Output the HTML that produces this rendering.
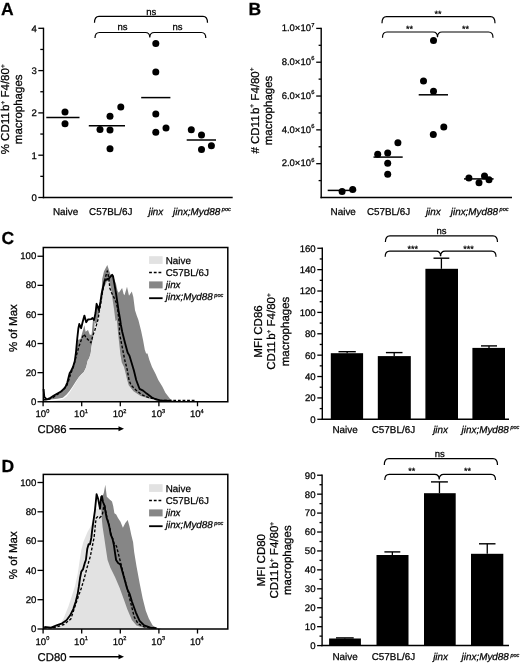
<!DOCTYPE html>
<html><head><meta charset="utf-8"><style>
html,body{margin:0;padding:0;background:#fff;}
svg{display:block;filter:blur(0.35px);}
text{font-family:"Liberation Sans", sans-serif;fill:#000;stroke:#000;stroke-width:0.25px;}
</style></head><body>
<svg text-rendering="geometricPrecision" width="520" height="665" viewBox="0 0 520 665">
<rect width="520" height="665" fill="#fff"/>
<text x="1.00" y="14.80" font-size="17.5" text-anchor="start" font-weight="bold" font-style="normal" >A</text>
<line x1="43.50" y1="27.70" x2="43.50" y2="198.20" stroke="#000" stroke-width="1.4" />
<line x1="42.80" y1="197.50" x2="232.70" y2="197.50" stroke="#000" stroke-width="1.5" />
<line x1="38.30" y1="197.50" x2="43.50" y2="197.50" stroke="#000" stroke-width="1.3" />
<text x="36.90" y="200.90" font-size="9.6" text-anchor="end" font-weight="normal" font-style="normal" >0</text>
<line x1="38.30" y1="155.20" x2="43.50" y2="155.20" stroke="#000" stroke-width="1.3" />
<text x="36.90" y="158.60" font-size="9.6" text-anchor="end" font-weight="normal" font-style="normal" >1</text>
<line x1="38.30" y1="112.90" x2="43.50" y2="112.90" stroke="#000" stroke-width="1.3" />
<text x="36.90" y="116.30" font-size="9.6" text-anchor="end" font-weight="normal" font-style="normal" >2</text>
<line x1="38.30" y1="70.60" x2="43.50" y2="70.60" stroke="#000" stroke-width="1.3" />
<text x="36.90" y="74.00" font-size="9.6" text-anchor="end" font-weight="normal" font-style="normal" >3</text>
<line x1="38.30" y1="28.30" x2="43.50" y2="28.30" stroke="#000" stroke-width="1.3" />
<text x="36.90" y="31.70" font-size="9.6" text-anchor="end" font-weight="normal" font-style="normal" >4</text>
<line x1="40.30" y1="176.35" x2="43.50" y2="176.35" stroke="#000" stroke-width="1.3" />
<line x1="40.30" y1="134.05" x2="43.50" y2="134.05" stroke="#000" stroke-width="1.3" />
<line x1="40.30" y1="91.75" x2="43.50" y2="91.75" stroke="#000" stroke-width="1.3" />
<line x1="40.30" y1="49.45" x2="43.50" y2="49.45" stroke="#000" stroke-width="1.3" />
<text transform="translate(6.20,109.30) rotate(-90)" x="0" y="0" font-size="11.5" text-anchor="middle" dominant-baseline="central">% CD11<tspan dx="1.4">b</tspan><tspan font-size="6.5" dy="-3.3">+</tspan><tspan font-size="0.1" dy="3.3">.</tspan> F4/80<tspan font-size="6.5" dy="-3.3">+</tspan><tspan font-size="0.1" dy="3.3">.</tspan></text>
<text transform="translate(19.40,109.30) rotate(-90)" x="0" y="0" font-size="11.5" text-anchor="middle" dominant-baseline="central">macrophages</text>
<text x="65.50" y="214.80" font-size="9.9" text-anchor="middle" font-weight="normal" font-style="normal" >Naive</text>
<text x="110.80" y="214.80" font-size="9.9" text-anchor="middle" font-weight="normal" font-style="normal" >C57BL/6J</text>
<text x="155.90" y="214.80" font-size="9.9" text-anchor="middle" font-weight="normal" font-style="italic" >jinx</text>
<text x="173.00" y="214.80" font-size="9.9" text-anchor="start" font-weight="normal" font-style="italic" >jinx;Myd88<tspan font-size="5.6" dx="1.6" dy="-3.8">poc</tspan></text>
<line x1="46.30" y1="117.50" x2="79.50" y2="117.50" stroke="#000" stroke-width="1.5" />
<line x1="88.80" y1="125.80" x2="125.00" y2="125.80" stroke="#000" stroke-width="1.5" />
<line x1="141.20" y1="97.60" x2="170.40" y2="97.60" stroke="#000" stroke-width="1.5" />
<line x1="186.70" y1="140.00" x2="216.00" y2="140.00" stroke="#000" stroke-width="1.5" />
<circle cx="65.00" cy="112.00" r="3.5" fill="#000"/>
<circle cx="65.00" cy="123.80" r="3.5" fill="#000"/>
<circle cx="100.00" cy="129.50" r="3.5" fill="#000"/>
<circle cx="110.00" cy="116.30" r="3.5" fill="#000"/>
<circle cx="110.00" cy="130.00" r="3.5" fill="#000"/>
<circle cx="110.00" cy="148.80" r="3.5" fill="#000"/>
<circle cx="120.80" cy="107.00" r="3.5" fill="#000"/>
<circle cx="155.80" cy="43.50" r="3.5" fill="#000"/>
<circle cx="155.80" cy="72.00" r="3.5" fill="#000"/>
<circle cx="155.80" cy="114.00" r="3.5" fill="#000"/>
<circle cx="155.80" cy="132.30" r="3.5" fill="#000"/>
<circle cx="166.00" cy="128.10" r="3.5" fill="#000"/>
<circle cx="191.30" cy="129.80" r="3.5" fill="#000"/>
<circle cx="201.50" cy="135.10" r="3.5" fill="#000"/>
<circle cx="201.50" cy="149.50" r="3.5" fill="#000"/>
<circle cx="211.40" cy="145.70" r="3.5" fill="#000"/>
<path d="M94.5,22.8 Q94.5,16.3 99.0,16.3 L203.0,16.3 Q207.5,16.3 207.5,22.8" fill="none" stroke="#000" stroke-width="1.2"/>
<path d="M95,38.0 Q95,32.5 99.5,32.5 L145.3,32.5 Q149.8,32.5 149.8,37.5 Q149.8,32.5 154.3,32.5 L201.3,32.5 Q205.8,32.5 205.8,38.0" fill="none" stroke="#000" stroke-width="1.2"/>
<text x="151.30" y="15.00" font-size="9.5" text-anchor="middle" font-weight="normal" font-style="normal" >ns</text>
<text x="122.50" y="29.80" font-size="9.5" text-anchor="middle" font-weight="normal" font-style="normal" >ns</text>
<text x="177.50" y="29.80" font-size="9.5" text-anchor="middle" font-weight="normal" font-style="normal" >ns</text>
<text x="248.40" y="15.00" font-size="17.5" text-anchor="start" font-weight="bold" font-style="normal" >B</text>
<line x1="321.20" y1="27.80" x2="321.20" y2="198.20" stroke="#000" stroke-width="1.4" />
<line x1="320.50" y1="197.50" x2="512.00" y2="197.50" stroke="#000" stroke-width="1.5" />
<line x1="316.20" y1="163.68" x2="321.20" y2="163.68" stroke="#000" stroke-width="1.3" />
<text x="314.40" y="166.38" font-size="9.5" text-anchor="end" font-weight="normal" font-style="normal" >2.0×10<tspan font-size="5.8" dx="0.2" dy="-4.6">6</tspan></text>
<line x1="316.20" y1="129.86" x2="321.20" y2="129.86" stroke="#000" stroke-width="1.3" />
<text x="314.40" y="132.56" font-size="9.5" text-anchor="end" font-weight="normal" font-style="normal" >4.0×10<tspan font-size="5.8" dx="0.2" dy="-4.6">6</tspan></text>
<line x1="316.20" y1="96.04" x2="321.20" y2="96.04" stroke="#000" stroke-width="1.3" />
<text x="314.40" y="98.74" font-size="9.5" text-anchor="end" font-weight="normal" font-style="normal" >6.0×10<tspan font-size="5.8" dx="0.2" dy="-4.6">6</tspan></text>
<line x1="316.20" y1="62.22" x2="321.20" y2="62.22" stroke="#000" stroke-width="1.3" />
<text x="314.40" y="64.92" font-size="9.5" text-anchor="end" font-weight="normal" font-style="normal" >8.0×10<tspan font-size="5.8" dx="0.2" dy="-4.6">6</tspan></text>
<line x1="316.20" y1="28.40" x2="321.20" y2="28.40" stroke="#000" stroke-width="1.3" />
<text x="314.40" y="31.10" font-size="9.5" text-anchor="end" font-weight="normal" font-style="normal" >1.0×10<tspan font-size="5.8" dx="0.2" dy="-4.6">7</tspan></text>
<line x1="318.60" y1="180.59" x2="321.20" y2="180.59" stroke="#000" stroke-width="1.3" />
<line x1="318.60" y1="146.77" x2="321.20" y2="146.77" stroke="#000" stroke-width="1.3" />
<line x1="318.60" y1="112.95" x2="321.20" y2="112.95" stroke="#000" stroke-width="1.3" />
<line x1="318.60" y1="79.13" x2="321.20" y2="79.13" stroke="#000" stroke-width="1.3" />
<line x1="318.60" y1="45.31" x2="321.20" y2="45.31" stroke="#000" stroke-width="1.3" />
<text transform="translate(255.70,110.50) rotate(-90)" x="0" y="0" font-size="11.5" text-anchor="middle" dominant-baseline="central"># CD11<tspan dx="1.4">b</tspan><tspan font-size="6.5" dy="-3.3">+</tspan><tspan font-size="0.1" dy="3.3">.</tspan> F4/80<tspan font-size="6.5" dy="-3.3">+</tspan><tspan font-size="0.1" dy="3.3">.</tspan></text>
<text transform="translate(268.90,110.50) rotate(-90)" x="0" y="0" font-size="11.5" text-anchor="middle" dominant-baseline="central">macrophages</text>
<text x="343.20" y="215.00" font-size="9.9" text-anchor="middle" font-weight="normal" font-style="normal" >Naive</text>
<text x="388.60" y="215.00" font-size="9.9" text-anchor="middle" font-weight="normal" font-style="normal" >C57BL/6J</text>
<text x="433.30" y="215.00" font-size="9.9" text-anchor="middle" font-weight="normal" font-style="italic" >jinx</text>
<text x="450.80" y="215.00" font-size="9.9" text-anchor="start" font-weight="normal" font-style="italic" >jinx;Myd88<tspan font-size="5.6" dx="1.6" dy="-3.8">poc</tspan></text>
<line x1="327.70" y1="190.40" x2="356.20" y2="190.40" stroke="#000" stroke-width="1.5" />
<line x1="373.50" y1="157.10" x2="402.70" y2="157.10" stroke="#000" stroke-width="1.5" />
<line x1="418.70" y1="94.80" x2="448.00" y2="94.80" stroke="#000" stroke-width="1.5" />
<line x1="464.00" y1="178.90" x2="493.60" y2="178.90" stroke="#000" stroke-width="1.5" />
<circle cx="342.10" cy="191.50" r="3.5" fill="#000"/>
<circle cx="352.70" cy="189.60" r="3.5" fill="#000"/>
<circle cx="377.70" cy="154.20" r="3.5" fill="#000"/>
<circle cx="387.70" cy="153.10" r="3.5" fill="#000"/>
<circle cx="387.70" cy="163.30" r="3.5" fill="#000"/>
<circle cx="387.70" cy="174.20" r="3.5" fill="#000"/>
<circle cx="397.90" cy="142.70" r="3.5" fill="#000"/>
<circle cx="433.50" cy="40.60" r="3.5" fill="#000"/>
<circle cx="423.50" cy="81.00" r="3.5" fill="#000"/>
<circle cx="433.50" cy="91.20" r="3.5" fill="#000"/>
<circle cx="433.30" cy="134.50" r="3.5" fill="#000"/>
<circle cx="443.80" cy="127.00" r="3.5" fill="#000"/>
<circle cx="468.90" cy="178.00" r="3.5" fill="#000"/>
<circle cx="479.00" cy="182.70" r="3.5" fill="#000"/>
<circle cx="484.50" cy="176.00" r="3.5" fill="#000"/>
<circle cx="489.00" cy="179.70" r="3.5" fill="#000"/>
<path d="M382,23.2 Q382,16.7 386.5,16.7 L490.5,16.7 Q495,16.7 495,23.2" fill="none" stroke="#000" stroke-width="1.2"/>
<path d="M382.5,37.7 Q382.5,32 387.0,32 L433.0,32 Q437.5,32 437.5,37.2 Q437.5,32 442.0,32 L488.5,32 Q493,32 493,37.7" fill="none" stroke="#000" stroke-width="1.2"/>
<text x="438.00" y="16.60" font-size="9" text-anchor="middle" font-weight="normal" font-style="normal" >**</text>
<text x="409.60" y="31.80" font-size="9" text-anchor="middle" font-weight="normal" font-style="normal" >**</text>
<text x="465.60" y="31.80" font-size="9" text-anchor="middle" font-weight="normal" font-style="normal" >**</text>
<text x="1.50" y="244.30" font-size="17.5" text-anchor="start" font-weight="bold" font-style="normal" >C</text>
<polygon points="43.5,401.3 47.0,400.5 50.5,399.6 57.4,398.8 62.8,397.7 66.6,394.6 69.7,390.8 72.8,386.2 75.8,381.5 78.9,376.9 81.4,374.3 83.8,371.9 86.2,367.0 87.7,360.4 89.2,358.0 90.7,353.2 91.6,346.0 92.8,340.0 93.8,334.8 94.7,322.2 94.0,320.1 92.9,321.0 91.6,334.8 89.8,334.8 88.0,330.0 85.6,331.8 84.4,325.2 80.5,339.0 77.6,340.0 76.0,352.0 74.8,361.0 73.0,367.0 70.6,371.9 69.7,373.1 68.5,377.7 67.4,382.3 65.8,386.2 63.5,389.2 60.5,391.9 57.4,393.5 53.5,395.8 50.5,397.7 47.8,399.1 46.2,399.5 43.5,400.5" fill="#868686" stroke="none" stroke-width="1" />
<polygon points="94.0,320.1 95.5,313.0 96.6,303.8 98.9,310.0 100.5,301.5 101.6,293.8 102.2,279.0 104.0,271.2 107.3,264.9 109.1,270.6 110.6,274.8 113.0,275.9 116.0,283.7 117.6,291.0 118.8,292.8 122.1,288.0 123.6,294.0 124.5,295.2 127.0,286.8 129.0,295.8 131.8,291.6 133.3,297.0 135.0,310.3 136.8,315.7 138.4,320.0 141.1,330.8 143.0,339.8 144.8,349.8 146.1,353.4 147.5,353.4 149.3,359.7 152.0,366.9 155.6,374.1 158.3,380.0 162.3,386.5 165.4,392.7 170.0,398.8 173.0,400.7 180.0,401.3 110.0,401.3 100.0,330.0 94.7,322.2" fill="#868686" stroke="none" stroke-width="1" />
<polygon points="50.0,401.3 57.4,400.2 62.8,399.2 66.6,396.5 69.7,392.5 72.8,387.5 75.8,382.5 78.9,377.5 81.4,374.8 83.8,372.4 86.2,367.5 87.7,361.0 89.2,358.5 90.7,353.5 91.6,346.5 92.8,340.5 93.8,335.5 95.1,330.0 97.4,320.0 99.7,310.0 101.2,301.5 102.8,293.8 104.0,287.5 107.0,280.9 109.4,282.0 111.0,288.0 112.2,297.0 114.0,309.0 115.5,321.0 116.8,320.0 118.6,338.0 120.4,354.3 121.8,362.4 124.0,366.9 125.8,374.1 127.2,380.0 128.7,385.2 133.5,391.2 140.7,396.0 149.2,398.4 155.0,399.6 165.0,400.8 175.0,401.3" fill="#e2e2e2" stroke="none" stroke-width="1" />
<polyline points="44.0,399.5 47.5,399.6 52.0,398.2 57.8,394.2 63.5,389.8 66.5,386.5 68.5,381.0 70.5,374.5 74.0,365.0 76.5,355.0 79.0,346.3 82.0,337.9 84.1,334.2 86.2,337.9 88.6,340.3 91.0,342.7 92.9,335.4 94.7,330.6 97.1,322.8 98.3,318.6 98.9,313.0 100.5,305.4 101.6,297.7 102.8,290.0 105.2,278.0 107.3,271.0 108.8,277.7 109.8,288.0 111.6,292.8 114.0,297.6 116.4,303.0 117.6,309.0 118.5,316.3 119.4,325.0 119.5,333.5 121.3,342.5 123.1,351.6 124.9,360.6 127.2,369.6 129.0,380.0 131.1,385.2 135.9,390.0 141.9,394.8 149.2,397.8 155.0,399.0 160.0,400.4 196.0,400.4" fill="none" stroke="#000" stroke-width="1.35" stroke-linejoin="round" stroke-dasharray="2.8,1.8"/>
<polyline points="43.6,389.0 44.3,396.9 46.2,398.8 47.8,399.1 50.5,397.7 53.5,395.8 57.4,393.5 60.5,391.9 63.5,389.2 65.8,386.2 67.4,382.3 68.5,377.7 69.7,373.1 70.6,371.9 73.0,367.0 74.8,361.0 76.0,352.0 77.2,339.0 78.4,328.2 79.3,324.0 81.1,328.2 82.6,322.2 84.4,315.6 86.2,322.2 88.0,319.5 91.0,319.2 92.5,318.0 94.0,320.1 95.5,313.0 96.6,303.8 98.9,310.0 100.5,301.5 101.6,293.8 102.4,290.0 104.5,281.0 106.5,279.5 108.0,279.0 109.4,277.9 112.1,274.8 113.0,276.0 114.6,285.0 116.1,294.0 117.3,301.8 118.5,310.3 120.0,318.7 120.9,325.0 122.2,331.7 124.9,342.5 127.6,352.5 129.4,355.6 131.2,361.5 133.9,370.5 136.2,380.0 139.5,388.8 143.1,390.6 146.7,393.6 151.6,397.2 155.0,399.0 160.0,400.4 170.0,401.0" fill="none" stroke="#000" stroke-width="1.85" stroke-linejoin="round" />
<rect x="43.3" y="247.5" width="184.5" height="154.25" fill="none" stroke="#000" stroke-width="1.5"/>
<line x1="37.50" y1="401.75" x2="43.30" y2="401.75" stroke="#000" stroke-width="1.3" />
<text x="36.30" y="404.85" font-size="9.6" text-anchor="end" font-weight="normal" font-style="normal" >0</text>
<line x1="37.50" y1="372.65" x2="43.30" y2="372.65" stroke="#000" stroke-width="1.3" />
<text x="36.30" y="375.75" font-size="9.6" text-anchor="end" font-weight="normal" font-style="normal" >20</text>
<line x1="37.50" y1="343.55" x2="43.30" y2="343.55" stroke="#000" stroke-width="1.3" />
<text x="36.30" y="346.65" font-size="9.6" text-anchor="end" font-weight="normal" font-style="normal" >40</text>
<line x1="37.50" y1="314.45" x2="43.30" y2="314.45" stroke="#000" stroke-width="1.3" />
<text x="36.30" y="317.55" font-size="9.6" text-anchor="end" font-weight="normal" font-style="normal" >60</text>
<line x1="37.50" y1="285.35" x2="43.30" y2="285.35" stroke="#000" stroke-width="1.3" />
<text x="36.30" y="288.45" font-size="9.6" text-anchor="end" font-weight="normal" font-style="normal" >80</text>
<line x1="37.50" y1="256.25" x2="43.30" y2="256.25" stroke="#000" stroke-width="1.3" />
<text x="36.30" y="259.35" font-size="9.6" text-anchor="end" font-weight="normal" font-style="normal" >100</text>
<line x1="43.10" y1="401.75" x2="43.10" y2="406.25" stroke="#000" stroke-width="1.3" />
<text x="35.50" y="417.10" font-size="9.6" text-anchor="start" font-weight="normal" font-style="normal" >10<tspan font-size="5.6" dy="-4.4">0</tspan><tspan font-size="0.1" dy="4.4">.</tspan></text>
<line x1="81.70" y1="401.75" x2="81.70" y2="406.25" stroke="#000" stroke-width="1.3" />
<text x="74.10" y="417.10" font-size="9.6" text-anchor="start" font-weight="normal" font-style="normal" >10<tspan font-size="5.6" dy="-4.4">1</tspan><tspan font-size="0.1" dy="4.4">.</tspan></text>
<line x1="120.30" y1="401.75" x2="120.30" y2="406.25" stroke="#000" stroke-width="1.3" />
<text x="112.70" y="417.10" font-size="9.6" text-anchor="start" font-weight="normal" font-style="normal" >10<tspan font-size="5.6" dy="-4.4">2</tspan><tspan font-size="0.1" dy="4.4">.</tspan></text>
<line x1="158.90" y1="401.75" x2="158.90" y2="406.25" stroke="#000" stroke-width="1.3" />
<text x="151.30" y="417.10" font-size="9.6" text-anchor="start" font-weight="normal" font-style="normal" >10<tspan font-size="5.6" dy="-4.4">3</tspan><tspan font-size="0.1" dy="4.4">.</tspan></text>
<line x1="197.50" y1="401.75" x2="197.50" y2="406.25" stroke="#000" stroke-width="1.3" />
<text x="189.90" y="417.10" font-size="9.6" text-anchor="start" font-weight="normal" font-style="normal" >10<tspan font-size="5.6" dy="-4.4">4</tspan><tspan font-size="0.1" dy="4.4">.</tspan></text>
<text x="37.60" y="432.50" font-size="11.3" text-anchor="start" font-weight="normal" font-style="normal" >CD86</text>
<line x1="69.40" y1="428.70" x2="120.00" y2="428.70" stroke="#000" stroke-width="1.5" />
<polygon points="124,428.7 118.5,426.2 118.5,431.2" fill="#000"/>
<text transform="translate(14.00,328.12) rotate(-90)" x="0" y="0" font-size="11.5" text-anchor="middle" dominant-baseline="central">% of Max</text>
<rect x="149.1" y="256.2" width="13.5" height="7.7" fill="#e2e2e2"/>
<line x1="149.10" y1="272.50" x2="162.60" y2="272.50" stroke="#000" stroke-width="1.45" stroke-dasharray="2.8,1.9"/>
<rect x="149.1" y="281.4" width="13.5" height="7" fill="#868686"/>
<line x1="149.10" y1="298.20" x2="162.60" y2="298.20" stroke="#000" stroke-width="1.85" />
<text x="165.80" y="264.20" font-size="9.8" text-anchor="start" font-weight="normal" font-style="normal" >Naive</text>
<text x="165.80" y="276.10" font-size="9.8" text-anchor="start" font-weight="normal" font-style="normal" >C57BL/6J</text>
<text x="165.80" y="287.80" font-size="9.8" text-anchor="start" font-weight="normal" font-style="italic" >jinx</text>
<text x="165.80" y="300.10" font-size="9.8" text-anchor="start" font-weight="normal" font-style="italic" >jinx;Myd88<tspan font-size="5.6" dx="1.7" dy="-3.0">poc</tspan></text>
<text x="1.50" y="472.20" font-size="17.5" text-anchor="start" font-weight="bold" font-style="normal" >D</text>
<polygon points="60.0,628.7 90.0,628.7 101.5,540.0 101.0,504.0 102.7,496.0 103.8,493.0 105.3,484.8 106.8,496.8 109.7,499.5 112.0,501.5 113.2,506.1 114.4,513.3 116.2,514.5 118.0,518.1 120.5,521.7 122.9,527.8 125.3,523.0 127.7,519.9 129.5,526.6 131.3,535.0 133.1,542.2 134.2,552.3 136.5,566.2 139.6,583.1 142.7,598.5 145.8,610.8 148.8,618.5 152.7,625.4 156.5,627.7 162.0,628.7" fill="#868686" stroke="none" stroke-width="1" />
<polygon points="48.0,628.7 53.0,628.0 57.0,626.5 60.5,623.5 63.4,619.0 68.3,606.7 72.0,595.6 75.1,585.7 77.6,574.6 79.4,562.3 81.3,550.0 83.2,542.6 85.0,537.9 87.5,532.0 90.4,527.0 92.5,521.0 94.0,514.0 96.0,509.0 99.3,508.0 101.2,510.0 101.7,518.0 102.6,527.1 104.0,536.1 105.3,545.1 106.7,554.2 107.6,560.0 110.4,567.7 115.0,576.9 119.6,587.7 123.5,598.5 127.3,609.2 131.9,620.0 136.5,625.4 141.2,626.9 150.0,628.7" fill="#e2e2e2" stroke="none" stroke-width="1" />
<polyline points="43.8,628.0 55.0,627.5 64.0,624.5 70.8,619.0 74.5,607.9 78.2,596.8 81.3,588.2 84.3,578.3 86.8,568.5 89.3,559.9 90.4,556.0 92.2,546.9 94.0,537.9 94.9,529.8 95.4,523.5 96.3,518.0 97.6,516.7 99.4,518.0 101.2,516.2 102.6,513.5 103.6,507.0 104.8,505.8 105.7,511.0 107.1,518.2 108.9,523.7 109.8,527.3 111.1,534.5 112.9,539.0 114.3,544.0 116.5,546.2 118.8,555.4 121.9,567.7 125.8,583.1 130.4,601.5 134.2,616.9 138.1,623.8 144.2,626.9 152.0,628.3" fill="none" stroke="#000" stroke-width="1.35" stroke-linejoin="round" stroke-dasharray="2.8,1.8"/>
<polyline points="44.3,627.0 51.1,627.6 57.2,625.1 62.2,623.3 66.5,620.2 70.2,615.3 73.3,609.1 75.7,601.7 77.6,594.3 78.8,586.9 80.0,578.3 81.3,571.6 83.1,569.1 85.0,562.3 85.9,560.0 87.3,548.7 88.6,544.2 90.0,544.2 91.3,537.9 92.2,529.8 93.6,519.9 94.9,510.8 96.6,494.2 98.2,499.0 100.0,508.8 101.2,496.8 101.9,496.0 103.0,502.0 104.4,505.4 105.3,510.8 106.7,518.0 108.5,523.5 109.4,527.1 110.7,534.3 112.5,538.8 113.9,545.1 115.2,554.2 116.1,560.0 118.1,563.1 120.4,564.6 123.5,575.4 127.3,589.2 129.6,593.8 131.9,601.5 135.8,612.3 139.6,620.8 144.2,625.4 150.4,627.7 156.5,628.2" fill="none" stroke="#000" stroke-width="1.85" stroke-linejoin="round" />
<rect x="43.3" y="474.4" width="184.5" height="154.60000000000002" fill="none" stroke="#000" stroke-width="1.5"/>
<line x1="37.50" y1="629.00" x2="43.30" y2="629.00" stroke="#000" stroke-width="1.3" />
<text x="36.30" y="632.10" font-size="9.6" text-anchor="end" font-weight="normal" font-style="normal" >0</text>
<line x1="37.50" y1="599.70" x2="43.30" y2="599.70" stroke="#000" stroke-width="1.3" />
<text x="36.30" y="602.80" font-size="9.6" text-anchor="end" font-weight="normal" font-style="normal" >20</text>
<line x1="37.50" y1="570.40" x2="43.30" y2="570.40" stroke="#000" stroke-width="1.3" />
<text x="36.30" y="573.50" font-size="9.6" text-anchor="end" font-weight="normal" font-style="normal" >40</text>
<line x1="37.50" y1="541.10" x2="43.30" y2="541.10" stroke="#000" stroke-width="1.3" />
<text x="36.30" y="544.20" font-size="9.6" text-anchor="end" font-weight="normal" font-style="normal" >60</text>
<line x1="37.50" y1="511.80" x2="43.30" y2="511.80" stroke="#000" stroke-width="1.3" />
<text x="36.30" y="514.90" font-size="9.6" text-anchor="end" font-weight="normal" font-style="normal" >80</text>
<line x1="37.50" y1="482.50" x2="43.30" y2="482.50" stroke="#000" stroke-width="1.3" />
<text x="36.30" y="485.60" font-size="9.6" text-anchor="end" font-weight="normal" font-style="normal" >100</text>
<line x1="43.10" y1="629.00" x2="43.10" y2="633.50" stroke="#000" stroke-width="1.3" />
<text x="35.50" y="644.60" font-size="9.6" text-anchor="start" font-weight="normal" font-style="normal" >10<tspan font-size="5.6" dy="-4.4">0</tspan><tspan font-size="0.1" dy="4.4">.</tspan></text>
<line x1="81.70" y1="629.00" x2="81.70" y2="633.50" stroke="#000" stroke-width="1.3" />
<text x="74.10" y="644.60" font-size="9.6" text-anchor="start" font-weight="normal" font-style="normal" >10<tspan font-size="5.6" dy="-4.4">1</tspan><tspan font-size="0.1" dy="4.4">.</tspan></text>
<line x1="120.30" y1="629.00" x2="120.30" y2="633.50" stroke="#000" stroke-width="1.3" />
<text x="112.70" y="644.60" font-size="9.6" text-anchor="start" font-weight="normal" font-style="normal" >10<tspan font-size="5.6" dy="-4.4">2</tspan><tspan font-size="0.1" dy="4.4">.</tspan></text>
<line x1="158.90" y1="629.00" x2="158.90" y2="633.50" stroke="#000" stroke-width="1.3" />
<text x="151.30" y="644.60" font-size="9.6" text-anchor="start" font-weight="normal" font-style="normal" >10<tspan font-size="5.6" dy="-4.4">3</tspan><tspan font-size="0.1" dy="4.4">.</tspan></text>
<line x1="197.50" y1="629.00" x2="197.50" y2="633.50" stroke="#000" stroke-width="1.3" />
<text x="189.90" y="644.60" font-size="9.6" text-anchor="start" font-weight="normal" font-style="normal" >10<tspan font-size="5.6" dy="-4.4">4</tspan><tspan font-size="0.1" dy="4.4">.</tspan></text>
<text x="37.60" y="660.50" font-size="11.3" text-anchor="start" font-weight="normal" font-style="normal" >CD80</text>
<line x1="69.40" y1="656.70" x2="120.00" y2="656.70" stroke="#000" stroke-width="1.5" />
<polygon points="124,656.7 118.5,654.2 118.5,659.2" fill="#000"/>
<text transform="translate(14.00,555.20) rotate(-90)" x="0" y="0" font-size="11.5" text-anchor="middle" dominant-baseline="central">% of Max</text>
<rect x="149.1" y="484.2" width="13.5" height="7.7" fill="#e2e2e2"/>
<line x1="149.10" y1="500.50" x2="162.60" y2="500.50" stroke="#000" stroke-width="1.45" stroke-dasharray="2.8,1.9"/>
<rect x="149.1" y="509.4" width="13.5" height="7" fill="#868686"/>
<line x1="149.10" y1="526.20" x2="162.60" y2="526.20" stroke="#000" stroke-width="1.85" />
<text x="165.80" y="492.20" font-size="9.8" text-anchor="start" font-weight="normal" font-style="normal" >Naive</text>
<text x="165.80" y="504.10" font-size="9.8" text-anchor="start" font-weight="normal" font-style="normal" >C57BL/6J</text>
<text x="165.80" y="515.80" font-size="9.8" text-anchor="start" font-weight="normal" font-style="italic" >jinx</text>
<text x="165.80" y="528.10" font-size="9.8" text-anchor="start" font-weight="normal" font-style="italic" >jinx;Myd88<tspan font-size="5.6" dx="1.7" dy="-3.0">poc</tspan></text>
<line x1="322.30" y1="247.56" x2="322.30" y2="420.00" stroke="#000" stroke-width="1.4" />
<line x1="321.60" y1="419.30" x2="509.00" y2="419.30" stroke="#000" stroke-width="1.5" />
<line x1="317.30" y1="419.30" x2="322.30" y2="419.30" stroke="#000" stroke-width="1.3" />
<text x="315.70" y="422.70" font-size="9.6" text-anchor="end" font-weight="normal" font-style="normal" >0</text>
<line x1="317.30" y1="397.92" x2="322.30" y2="397.92" stroke="#000" stroke-width="1.3" />
<text x="315.70" y="401.32" font-size="9.6" text-anchor="end" font-weight="normal" font-style="normal" >20</text>
<line x1="317.30" y1="376.54" x2="322.30" y2="376.54" stroke="#000" stroke-width="1.3" />
<text x="315.70" y="379.94" font-size="9.6" text-anchor="end" font-weight="normal" font-style="normal" >40</text>
<line x1="317.30" y1="355.16" x2="322.30" y2="355.16" stroke="#000" stroke-width="1.3" />
<text x="315.70" y="358.56" font-size="9.6" text-anchor="end" font-weight="normal" font-style="normal" >60</text>
<line x1="317.30" y1="333.78" x2="322.30" y2="333.78" stroke="#000" stroke-width="1.3" />
<text x="315.70" y="337.18" font-size="9.6" text-anchor="end" font-weight="normal" font-style="normal" >80</text>
<line x1="317.30" y1="312.40" x2="322.30" y2="312.40" stroke="#000" stroke-width="1.3" />
<text x="315.70" y="315.80" font-size="9.6" text-anchor="end" font-weight="normal" font-style="normal" >100</text>
<line x1="317.30" y1="291.02" x2="322.30" y2="291.02" stroke="#000" stroke-width="1.3" />
<text x="315.70" y="294.42" font-size="9.6" text-anchor="end" font-weight="normal" font-style="normal" >120</text>
<line x1="317.30" y1="269.64" x2="322.30" y2="269.64" stroke="#000" stroke-width="1.3" />
<text x="315.70" y="273.04" font-size="9.6" text-anchor="end" font-weight="normal" font-style="normal" >140</text>
<line x1="317.30" y1="248.26" x2="322.30" y2="248.26" stroke="#000" stroke-width="1.3" />
<text x="315.70" y="251.66" font-size="9.6" text-anchor="end" font-weight="normal" font-style="normal" >160</text>
<line x1="319.70" y1="408.61" x2="322.30" y2="408.61" stroke="#000" stroke-width="1.3" />
<line x1="319.70" y1="387.23" x2="322.30" y2="387.23" stroke="#000" stroke-width="1.3" />
<line x1="319.70" y1="365.85" x2="322.30" y2="365.85" stroke="#000" stroke-width="1.3" />
<line x1="319.70" y1="344.47" x2="322.30" y2="344.47" stroke="#000" stroke-width="1.3" />
<line x1="319.70" y1="323.09" x2="322.30" y2="323.09" stroke="#000" stroke-width="1.3" />
<line x1="319.70" y1="301.71" x2="322.30" y2="301.71" stroke="#000" stroke-width="1.3" />
<line x1="319.70" y1="280.33" x2="322.30" y2="280.33" stroke="#000" stroke-width="1.3" />
<line x1="319.70" y1="258.95" x2="322.30" y2="258.95" stroke="#000" stroke-width="1.3" />
<rect x="330.8" y="353.2" width="32.30000000000001" height="66.10000000000002" fill="#000"/>
<line x1="347.15" y1="353.20" x2="347.15" y2="351.70" stroke="#000" stroke-width="1.3" />
<line x1="338.50" y1="351.70" x2="355.80" y2="351.70" stroke="#000" stroke-width="1.4" />
<rect x="377.8" y="356.1" width="33.0" height="63.19999999999999" fill="#000"/>
<line x1="394.20" y1="356.10" x2="394.20" y2="352.60" stroke="#000" stroke-width="1.3" />
<line x1="385.90" y1="352.60" x2="402.50" y2="352.60" stroke="#000" stroke-width="1.4" />
<rect x="425.4" y="268.8" width="32.60000000000002" height="150.5" fill="#000"/>
<line x1="441.40" y1="268.80" x2="441.40" y2="258.20" stroke="#000" stroke-width="1.3" />
<line x1="433.50" y1="258.20" x2="449.30" y2="258.20" stroke="#000" stroke-width="1.4" />
<rect x="472.4" y="347.9" width="32.60000000000002" height="71.40000000000003" fill="#000"/>
<line x1="489.00" y1="347.90" x2="489.00" y2="345.90" stroke="#000" stroke-width="1.3" />
<line x1="481.00" y1="345.90" x2="497.00" y2="345.90" stroke="#000" stroke-width="1.4" />
<path d="M385.4,242.10000000000002 Q385.4,235.8 389.9,235.8 L493.0,235.8 Q497.5,235.8 497.5,242.10000000000002" fill="none" stroke="#000" stroke-width="1.2"/>
<path d="M385.2,256.7 Q385.2,251.1 389.7,251.1 L436.1,251.1 Q440.6,251.1 440.6,256.2 Q440.6,251.1 445.1,251.1 L491.5,251.1 Q496,251.1 496,256.7" fill="none" stroke="#000" stroke-width="1.2"/>
<text x="441.50" y="234.30" font-size="9.5" text-anchor="middle" font-weight="normal" font-style="normal" >ns</text>
<text x="412.70" y="251.60" font-size="9" text-anchor="middle" font-weight="normal" font-style="normal" >***</text>
<text x="468.60" y="251.60" font-size="9" text-anchor="middle" font-weight="normal" font-style="normal" >***</text>
<text transform="translate(258.50,331.50) rotate(-90)" x="0" y="0" font-size="11.5" text-anchor="middle" dominant-baseline="central">MFI CD86</text>
<text transform="translate(272.40,331.50) rotate(-90)" x="0" y="0" font-size="11.5" text-anchor="middle" dominant-baseline="central">CD11<tspan dx="1.4">b</tspan><tspan font-size="6.5" dy="-3.3">+</tspan><tspan font-size="0.1" dy="3.3">.</tspan> F4/80<tspan font-size="6.5" dy="-3.3">+</tspan><tspan font-size="0.1" dy="3.3">.</tspan></text>
<text transform="translate(286.30,331.50) rotate(-90)" x="0" y="0" font-size="11.5" text-anchor="middle" dominant-baseline="central">macrophages</text>
<text x="345.00" y="432.50" font-size="9.9" text-anchor="middle" font-weight="normal" font-style="normal" >Naive</text>
<text x="393.40" y="432.50" font-size="9.9" text-anchor="middle" font-weight="normal" font-style="normal" >C57BL/6J</text>
<text x="440.60" y="432.50" font-size="9.9" text-anchor="middle" font-weight="normal" font-style="italic" >jinx</text>
<text x="461.60" y="432.50" font-size="9.9" text-anchor="start" font-weight="normal" font-style="italic" >jinx;Myd88<tspan font-size="5.6" dx="1.6" dy="-3.8">poc</tspan></text>
<line x1="322.10" y1="474.53" x2="322.10" y2="646.30" stroke="#000" stroke-width="1.4" />
<line x1="321.40" y1="645.60" x2="509.00" y2="645.60" stroke="#000" stroke-width="1.5" />
<line x1="317.10" y1="645.60" x2="322.10" y2="645.60" stroke="#000" stroke-width="1.3" />
<text x="315.50" y="649.00" font-size="9.6" text-anchor="end" font-weight="normal" font-style="normal" >0</text>
<line x1="317.10" y1="626.67" x2="322.10" y2="626.67" stroke="#000" stroke-width="1.3" />
<text x="315.50" y="630.07" font-size="9.6" text-anchor="end" font-weight="normal" font-style="normal" >10</text>
<line x1="317.10" y1="607.74" x2="322.10" y2="607.74" stroke="#000" stroke-width="1.3" />
<text x="315.50" y="611.14" font-size="9.6" text-anchor="end" font-weight="normal" font-style="normal" >20</text>
<line x1="317.10" y1="588.81" x2="322.10" y2="588.81" stroke="#000" stroke-width="1.3" />
<text x="315.50" y="592.21" font-size="9.6" text-anchor="end" font-weight="normal" font-style="normal" >30</text>
<line x1="317.10" y1="569.88" x2="322.10" y2="569.88" stroke="#000" stroke-width="1.3" />
<text x="315.50" y="573.28" font-size="9.6" text-anchor="end" font-weight="normal" font-style="normal" >40</text>
<line x1="317.10" y1="550.95" x2="322.10" y2="550.95" stroke="#000" stroke-width="1.3" />
<text x="315.50" y="554.35" font-size="9.6" text-anchor="end" font-weight="normal" font-style="normal" >50</text>
<line x1="317.10" y1="532.02" x2="322.10" y2="532.02" stroke="#000" stroke-width="1.3" />
<text x="315.50" y="535.42" font-size="9.6" text-anchor="end" font-weight="normal" font-style="normal" >60</text>
<line x1="317.10" y1="513.09" x2="322.10" y2="513.09" stroke="#000" stroke-width="1.3" />
<text x="315.50" y="516.49" font-size="9.6" text-anchor="end" font-weight="normal" font-style="normal" >70</text>
<line x1="317.10" y1="494.16" x2="322.10" y2="494.16" stroke="#000" stroke-width="1.3" />
<text x="315.50" y="497.56" font-size="9.6" text-anchor="end" font-weight="normal" font-style="normal" >80</text>
<line x1="317.10" y1="475.23" x2="322.10" y2="475.23" stroke="#000" stroke-width="1.3" />
<text x="315.50" y="478.63" font-size="9.6" text-anchor="end" font-weight="normal" font-style="normal" >90</text>
<line x1="319.50" y1="636.13" x2="322.10" y2="636.13" stroke="#000" stroke-width="1.3" />
<line x1="319.50" y1="617.21" x2="322.10" y2="617.21" stroke="#000" stroke-width="1.3" />
<line x1="319.50" y1="598.27" x2="322.10" y2="598.27" stroke="#000" stroke-width="1.3" />
<line x1="319.50" y1="579.35" x2="322.10" y2="579.35" stroke="#000" stroke-width="1.3" />
<line x1="319.50" y1="560.41" x2="322.10" y2="560.41" stroke="#000" stroke-width="1.3" />
<line x1="319.50" y1="541.49" x2="322.10" y2="541.49" stroke="#000" stroke-width="1.3" />
<line x1="319.50" y1="522.56" x2="322.10" y2="522.56" stroke="#000" stroke-width="1.3" />
<line x1="319.50" y1="503.62" x2="322.10" y2="503.62" stroke="#000" stroke-width="1.3" />
<line x1="319.50" y1="484.70" x2="322.10" y2="484.70" stroke="#000" stroke-width="1.3" />
<rect x="329.1" y="638.5" width="31.799999999999955" height="7.100000000000023" fill="#000"/>
<line x1="344.85" y1="638.50" x2="344.85" y2="637.90" stroke="#000" stroke-width="1.3" />
<line x1="336.00" y1="637.90" x2="353.70" y2="637.90" stroke="#000" stroke-width="1.4" />
<rect x="376.5" y="555" width="32.0" height="90.60000000000002" fill="#000"/>
<line x1="392.35" y1="555.00" x2="392.35" y2="551.90" stroke="#000" stroke-width="1.3" />
<line x1="384.40" y1="551.90" x2="400.30" y2="551.90" stroke="#000" stroke-width="1.4" />
<rect x="424" y="493.2" width="31.69999999999999" height="152.40000000000003" fill="#000"/>
<line x1="439.45" y1="493.20" x2="439.45" y2="481.90" stroke="#000" stroke-width="1.3" />
<line x1="431.00" y1="481.90" x2="447.90" y2="481.90" stroke="#000" stroke-width="1.4" />
<rect x="471" y="553.8" width="32.30000000000001" height="91.80000000000007" fill="#000"/>
<line x1="487.25" y1="553.80" x2="487.25" y2="543.80" stroke="#000" stroke-width="1.3" />
<line x1="479.00" y1="543.80" x2="495.50" y2="543.80" stroke="#000" stroke-width="1.4" />
<path d="M384.3,465.0 Q384.3,458.7 388.8,458.7 L493.0,458.7 Q497.5,458.7 497.5,465.0" fill="none" stroke="#000" stroke-width="1.2"/>
<path d="M384.8,479.90000000000003 Q384.8,474.3 389.3,474.3 L434.7,474.3 Q439.2,474.3 439.2,479.40000000000003 Q439.2,474.3 443.7,474.3 L491.0,474.3 Q495.5,474.3 495.5,479.90000000000003" fill="none" stroke="#000" stroke-width="1.2"/>
<text x="439.80" y="457.00" font-size="9.5" text-anchor="middle" font-weight="normal" font-style="normal" >ns</text>
<text x="411.80" y="473.50" font-size="9" text-anchor="middle" font-weight="normal" font-style="normal" >**</text>
<text x="467.50" y="473.50" font-size="9" text-anchor="middle" font-weight="normal" font-style="normal" >**</text>
<text transform="translate(262.00,560.20) rotate(-90)" x="0" y="0" font-size="11.5" text-anchor="middle" dominant-baseline="central">MFI CD80</text>
<text transform="translate(275.20,560.20) rotate(-90)" x="0" y="0" font-size="11.5" text-anchor="middle" dominant-baseline="central">CD11<tspan dx="1.4">b</tspan><tspan font-size="6.5" dy="-3.3">+</tspan><tspan font-size="0.1" dy="3.3">.</tspan> F4/80<tspan font-size="6.5" dy="-3.3">+</tspan><tspan font-size="0.1" dy="3.3">.</tspan></text>
<text transform="translate(288.40,560.20) rotate(-90)" x="0" y="0" font-size="11.5" text-anchor="middle" dominant-baseline="central">macrophages</text>
<text x="345.00" y="660.40" font-size="9.9" text-anchor="middle" font-weight="normal" font-style="normal" >Naive</text>
<text x="393.40" y="660.40" font-size="9.9" text-anchor="middle" font-weight="normal" font-style="normal" >C57BL/6J</text>
<text x="440.60" y="660.40" font-size="9.9" text-anchor="middle" font-weight="normal" font-style="italic" >jinx</text>
<text x="461.60" y="660.40" font-size="9.9" text-anchor="start" font-weight="normal" font-style="italic" >jinx;Myd88<tspan font-size="5.6" dx="1.6" dy="-3.8">poc</tspan></text>
</svg></body></html>
